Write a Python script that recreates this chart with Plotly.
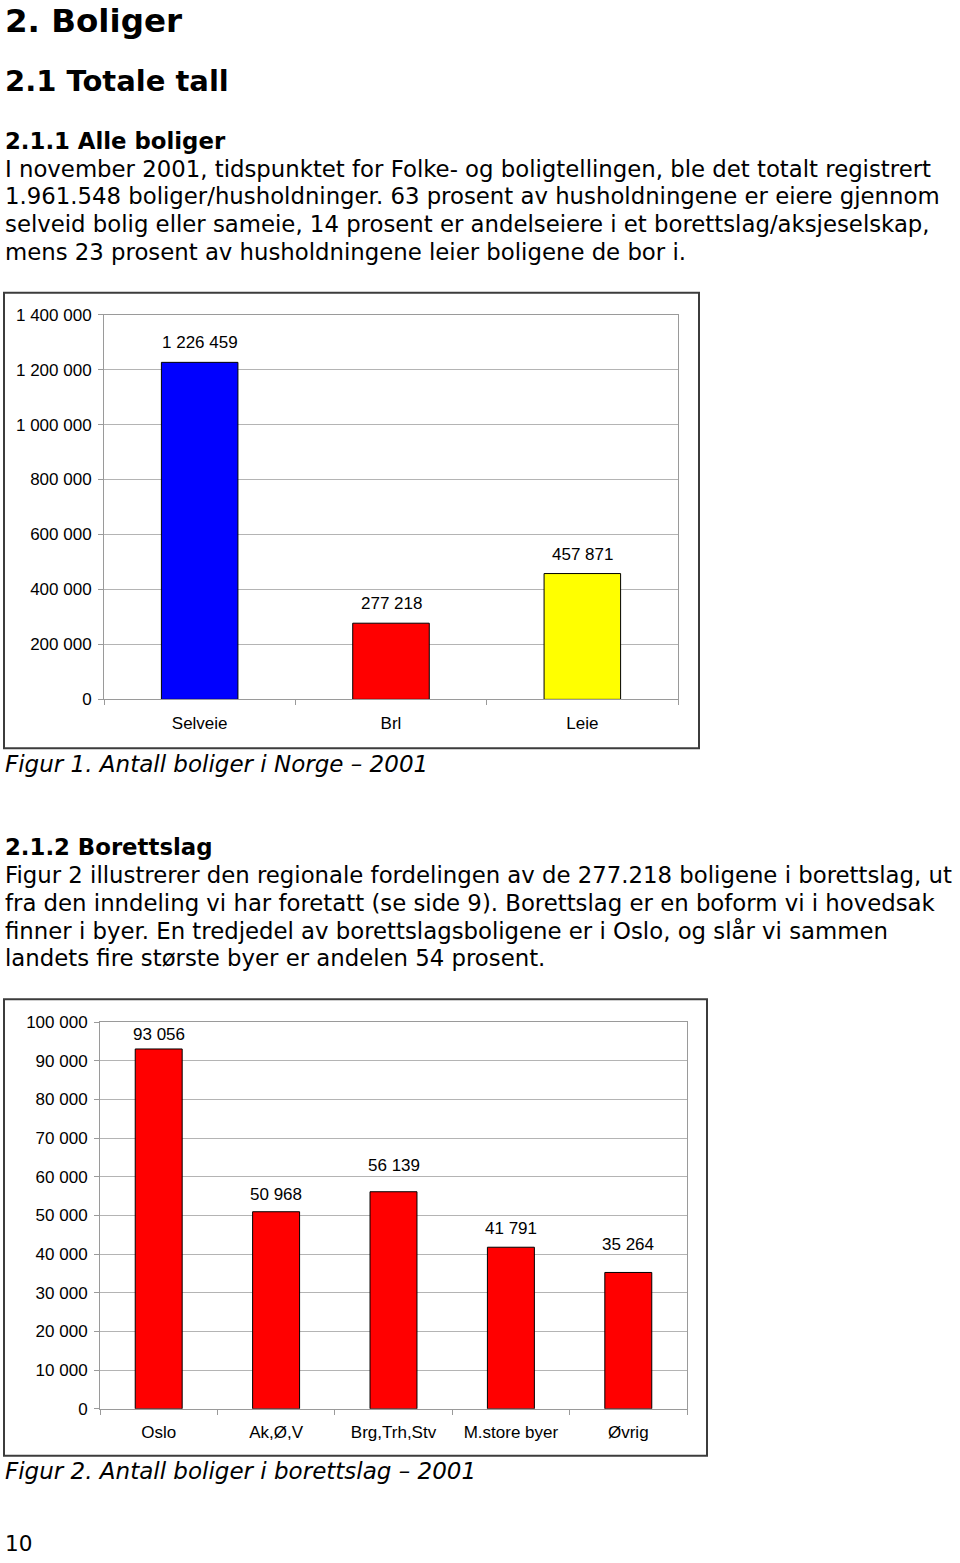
import plotly.graph_objects as go

# ---------------- data ----------------
cat1 = ["Selveie", "Brl", "Leie"]
val1 = [1226459, 277218, 457871]
colors1 = ["#0000ff", "#ff0000", "#ffff00"]

cat2 = ["Oslo", "Ak,Ø,V", "Brg,Trh,Stv", "M.store byer", "Øvrig"]
val2 = [93056, 50968, 56139, 41791, 35264]
colors2 = ["#ff0000"] * 5
# label offsets (style) above each bar, in pixels
label_shift2 = [3, 6, 15, 7, 16]

body1 = [
    "I november 2001, tidspunktet for Folke- og boligtellingen, ble det totalt registrert",
    "1.961.548 boliger/husholdninger. 63 prosent av husholdningene er eiere gjennom",
    "selveid bolig eller sameie, 14 prosent er andelseiere i et borettslag/aksjeselskap,",
    "mens 23 prosent av husholdningene leier boligene de bor i.",
]
body2 = [
    "Figur 2 illustrerer den regionale fordelingen av de 277.218 boligene i borettslag, ut",
    "fra den inndeling vi har foretatt (se side 9). Borettslag er en boform vi i hovedsak",
    "finner i byer. En tredjedel av borettslagsboligene er i Oslo, og slår vi sammen",
    "landets fire største byer er andelen 54 prosent.",
]

W, H = 960, 1563
# measured mapping of figure pixels to screen pixels (vertical)
OFF, SCALE = 8.1, 0.9886

def px(x):
    return x / W

def py(y):
    yf = (y - OFF) / SCALE
    return 1 - yf / H

def fmt(v):
    return f"{v:,}".replace(",", " ")

TEXT_FONT = "DejaVu Sans"
AX_FONT = "Liberation Sans, Arial"

fig = go.Figure()
fig.add_trace(go.Bar(x=cat1, y=val1, width=0.4, xaxis="x", yaxis="y",
                     marker=dict(color=colors1, line=dict(color="black", width=1)),
                     showlegend=False, hoverinfo="x+y"))
fig.add_trace(go.Bar(x=cat2, y=val2, width=0.4, xaxis="x2", yaxis="y2",
                     marker=dict(color=colors2, line=dict(color="black", width=1)),
                     showlegend=False, hoverinfo="x+y"))

axis_common = dict(showline=True, mirror=True, linecolor="#9a9a9a", linewidth=1,
                   ticks="outside", tickcolor="#9a9a9a", ticklen=5,
                   tickfont=dict(family=AX_FONT, size=17, color="black"))

fig.update_layout(
    width=W, height=H,
    margin=dict(l=0, r=0, t=0, b=0),
    paper_bgcolor="white", plot_bgcolor="white",
    separators=". ",
    xaxis=dict(domain=[px(104), px(678)], anchor="y", type="category",
               tickson="boundaries", showgrid=False, ticklabelstandoff=8, **axis_common),
    yaxis=dict(domain=[py(699), py(314)], anchor="x", range=[0, 1400000], dtick=200000,
               tickformat=",d", showgrid=True, gridcolor="#b4b4b4", gridwidth=1,
               zeroline=False, ticklabelstandoff=3, **axis_common),
    xaxis2=dict(domain=[px(100), px(687)], anchor="y2", type="category",
                tickson="boundaries", showgrid=False, ticklabelstandoff=8, **axis_common),
    yaxis2=dict(domain=[py(1409), py(1022)], anchor="x2", range=[0, 100000], dtick=10000,
                tickformat=",d", showgrid=True, gridcolor="#b4b4b4", gridwidth=1,
                zeroline=False, ticklabelstandoff=3, **axis_common),
)

# chart frames
fig.add_shape(type="rect", xref="paper", yref="paper",
              x0=px(4), x1=px(699), y0=py(748), y1=py(292),
              line=dict(color="#3c3c3c", width=2), layer="below")
fig.add_shape(type="rect", xref="paper", yref="paper",
              x0=px(4), x1=px(707), y0=py(1456), y1=py(999),
              line=dict(color="#3c3c3c", width=2), layer="below")

# value labels
for c, v in zip(cat1, val1):
    fig.add_annotation(x=c, y=v, xref="x", yref="y", text=fmt(v), showarrow=False,
                       yanchor="bottom", yshift=8,
                       font=dict(family=AX_FONT, size=17, color="black"))
for c, v, s in zip(cat2, val2, label_shift2):
    fig.add_annotation(x=c, y=v, xref="x2", yref="y2", text=fmt(v), showarrow=False,
                       yanchor="bottom", yshift=s,
                       font=dict(family=AX_FONT, size=17, color="black"))

def txt(y, text, size, bold=False, italic=False):
    t = text
    if bold:
        t = f"<b>{t}</b>"
    if italic:
        t = f"<i>{t}</i>"
    fig.add_annotation(x=px(3), y=py(y), xref="paper", yref="paper", text=t,
                       showarrow=False, xanchor="left", yanchor="middle",
                       font=dict(family=TEXT_FONT, size=size, color="black"))

txt(20, "2. Boliger", 32.5, bold=True)
txt(80, "2.1 Totale tall", 29, bold=True)
txt(140, "2.1.1 Alle boliger", 22.8, bold=True)
for i, line in enumerate(body1):
    txt(168 + i * 27.7, line, 22.8)
txt(764, "Figur 1. Antall boliger i Norge – 2001", 23, italic=True)

txt(847, "2.1.2 Borettslag", 22.8, bold=True)
for i, line in enumerate(body2):
    txt(875 + i * 27.7, line, 22.8)
txt(1471, "Figur 2. Antall boliger i borettslag – 2001", 23, italic=True)

txt(1544, "10", 21.6)

fig.write_html("out.html")
